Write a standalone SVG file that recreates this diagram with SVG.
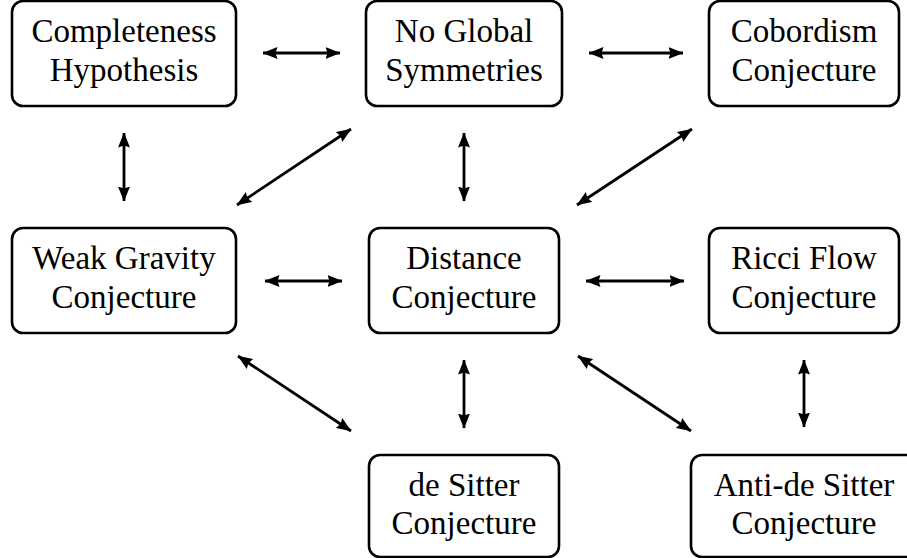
<svg xmlns="http://www.w3.org/2000/svg" width="907" height="558" viewBox="0 0 907 558">
  <style>
    .box { fill: #ffffff; stroke: #000000; stroke-width: 2.6; }
    .lbl { font-family: "Liberation Serif", "Times New Roman", Tinos, "DejaVu Serif", serif; font-size: 33px; fill: #000000; text-anchor: middle; }
    .edge { stroke: #000000; stroke-width: 2.8; fill: none; marker-start: url(#ah); marker-end: url(#ah); }
  </style>
  <defs>
    <marker id="ah" viewBox="0 0 15 12" refX="14.5" refY="6" markerWidth="15" markerHeight="12" markerUnits="userSpaceOnUse" orient="auto-start-reverse">
      <path d="M0,0 L15,6 L0,12 L2,6 Z" fill="#000000"/>
    </marker>
  </defs>
  <rect width="907" height="558" fill="#ffffff"/>

  <g id="connectors">
    <line class="edge" x1="263" y1="53" x2="340" y2="53"/>
    <line class="edge" x1="589" y1="53" x2="683" y2="53"/>
    <line class="edge" x1="124" y1="133" x2="124" y2="201"/>
    <line class="edge" x1="464" y1="133" x2="464" y2="201"/>
    <line class="edge" x1="237" y1="205" x2="351" y2="129"/>
    <line class="edge" x1="577" y1="205" x2="692" y2="129"/>
    <line class="edge" x1="265" y1="281" x2="342" y2="281"/>
    <line class="edge" x1="586" y1="281" x2="684" y2="281"/>
    <line class="edge" x1="238" y1="356" x2="351" y2="431"/>
    <line class="edge" x1="464" y1="360" x2="464" y2="428"/>
    <line class="edge" x1="578" y1="356" x2="691" y2="431"/>
    <line class="edge" x1="804" y1="360" x2="804" y2="427"/>
  </g>

  <g id="completeness">
    <rect class="box" x="12" y="1" width="224" height="105" rx="11"/>
    <text class="lbl" x="124" y="42">Completeness</text>
    <text class="lbl" x="124" y="81">Hypothesis</text>
  </g>
  <g id="no-global-symmetries">
    <rect class="box" x="366" y="1" width="196" height="105" rx="11"/>
    <text class="lbl" x="464" y="42">No Global</text>
    <text class="lbl" x="464" y="81">Symmetries</text>
  </g>
  <g id="cobordism">
    <rect class="box" x="709" y="1" width="190" height="105" rx="11"/>
    <text class="lbl" x="804" y="42">Cobordism</text>
    <text class="lbl" x="804" y="81">Conjecture</text>
  </g>
  <g id="weak-gravity">
    <rect class="box" x="12" y="228" width="224" height="105" rx="11"/>
    <text class="lbl" x="124" y="269">Weak Gravity</text>
    <text class="lbl" x="124" y="308">Conjecture</text>
  </g>
  <g id="distance">
    <rect class="box" x="369" y="228" width="190" height="105" rx="11"/>
    <text class="lbl" x="464" y="269">Distance</text>
    <text class="lbl" x="464" y="308">Conjecture</text>
  </g>
  <g id="ricci-flow">
    <rect class="box" x="709" y="228" width="190" height="105" rx="11"/>
    <text class="lbl" x="804" y="269">Ricci Flow</text>
    <text class="lbl" x="804" y="308">Conjecture</text>
  </g>
  <g id="de-sitter">
    <rect class="box" x="369" y="455" width="190" height="102" rx="11"/>
    <text class="lbl" x="464" y="496">de Sitter</text>
    <text class="lbl" x="464" y="534">Conjecture</text>
  </g>
  <g id="anti-de-sitter">
    <rect class="box" x="691" y="455" width="226" height="102" rx="11"/>
    <text class="lbl" x="804" y="496">Anti-de Sitter</text>
    <text class="lbl" x="804" y="534">Conjecture</text>
  </g>
</svg>
